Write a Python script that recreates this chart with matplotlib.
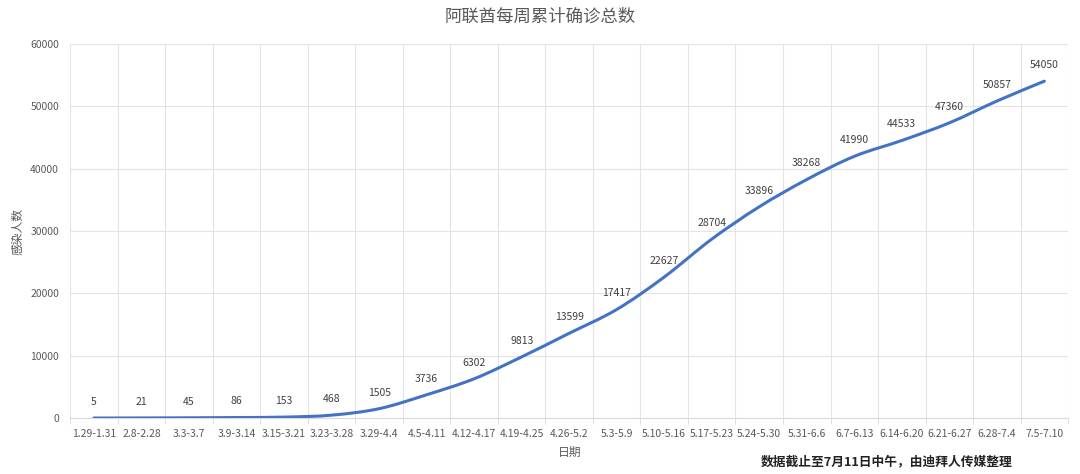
import numpy as np
import matplotlib
matplotlib.use('Agg')
import matplotlib.pyplot as plt
from matplotlib.path import Path
from matplotlib.patches import PathPatch

plt.rcParams['font.family'] = ['Noto Sans CJK SC', 'DejaVu Sans']

# 每周时间段
semanas = ['1.29-1.31', '2.8-2.28', '3.3-3.7', '3.9-3.14', '3.15-3.21', '3.23-3.28',
           '3.29-4.4', '4.5-4.11', '4.12-4.17', '4.19-4.25', '4.26-5.2', '5.3-5.9',
           '5.10-5.16', '5.17-5.23', '5.24-5.30', '5.31-6.6', '6.7-6.13', '6.14-6.20',
           '6.21-6.27', '6.28-7.4', '7.5-7.10']
# 累计确诊
casos = [5, 21, 45, 86, 153, 468, 1505, 3736, 6302, 9813, 13599, 17417,
         22627, 28704, 33896, 38268, 41990, 44533, 47360, 50857, 54050]

fig = plt.figure(figsize=(10.8, 4.74), dpi=100)
ax = fig.add_axes([0.065, 0.118, 0.924, 0.789])

x = np.arange(len(semanas))
y = np.array(casos, dtype=float)

# linha suavizada (estilo Excel): Bezier cúbica passando pelos pontos
verts = [(x[0], y[0])]
codes = [Path.MOVETO]
n = len(x)
for i in range(n - 1):
    p0 = (x[max(i - 1, 0)], y[max(i - 1, 0)])
    p1 = (x[i], y[i])
    p2 = (x[i + 1], y[i + 1])
    p3 = (x[min(i + 2, n - 1)], y[min(i + 2, n - 1)])
    c1 = (p1[0] + (p2[0] - p0[0]) / 6, p1[1] + (p2[1] - p0[1]) / 6)
    c2 = (p2[0] - (p3[0] - p1[0]) / 6, p2[1] - (p3[1] - p1[1]) / 6)
    verts += [c1, c2, p2]
    codes += [Path.CURVE4] * 3
ax.add_patch(PathPatch(Path(verts, codes), facecolor='none', edgecolor='#4472C4',
                       linewidth=2.2, capstyle='round', zorder=3))

for xi, v in zip(x, casos):
    ax.annotate(str(v), (xi, v), xytext=(0, 8), textcoords='offset points',
                ha='center', va='bottom', fontsize=7.5, color='#404040')

ax.set_xlim(-0.5, len(semanas) - 0.5)
ax.set_ylim(0, 60000)
ax.set_yticks(np.arange(0, 60001, 10000))
ax.set_xticks(x)
ax.set_xticklabels(semanas, fontsize=7.5, color='#595959')
ax.set_xticks(np.arange(-0.5, len(semanas)), minor=True)
ax.tick_params(axis='x', which='major', length=0, pad=8)
ax.tick_params(axis='x', which='minor', length=4, color='#d9d9d9')
ax.tick_params(axis='y', length=0, labelsize=7.5, labelcolor='#595959', pad=8)

ax.grid(True, axis='y', color='#e3e3e3', linewidth=0.8)
ax.grid(True, axis='x', which='minor', color='#e3e3e3', linewidth=0.8)
ax.grid(False, axis='x', which='major')
for s in ['top', 'right', 'left']:
    ax.spines[s].set_visible(False)
ax.spines['bottom'].set_color('#d9d9d9')

ax.set_xlabel('日期', fontsize=8.5, color='#595959', labelpad=5)
ax.set_ylabel('感染人数', fontsize=8.5, color='#595959', labelpad=4)
fig.text(0.5, 0.965, '阿联酋每周累计确诊总数', ha='center', va='center',
         fontsize=12.5, color='#595959')
fig.text(0.821, 0.025, '数据截止至7月11日中午，由迪拜人传媒整理', ha='center', va='center',
         fontsize=9.2, color='#222222', fontweight='bold')

fig.savefig('out.png', dpi=100)
